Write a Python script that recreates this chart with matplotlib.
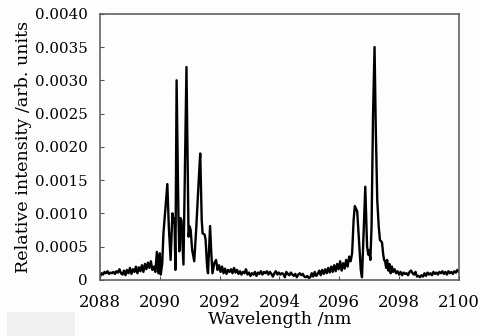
import matplotlib
matplotlib.use('Agg')
import matplotlib.pyplot as plt
from matplotlib.patches import Rectangle

# spectrum
wavelength = [
    2088.00, 2088.05, 2088.10, 2088.15, 2088.20, 2088.25, 2088.30, 2088.35, 2088.40, 2088.45,
    2088.50, 2088.55, 2088.60, 2088.65, 2088.70, 2088.75, 2088.80, 2088.85, 2088.90, 2088.95,
    2089.00, 2089.05, 2089.10, 2089.15, 2089.20, 2089.25, 2089.30, 2089.35, 2089.40, 2089.45,
    2089.50, 2089.55, 2089.60, 2089.65, 2089.70, 2089.75, 2089.80, 2089.85, 2089.90, 2089.95,
    2090.00, 2090.03, 2090.08, 2090.12, 2090.18, 2090.25, 2090.30, 2090.36, 2090.42, 2090.46,
    2090.49, 2090.52, 2090.56, 2090.62, 2090.65, 2090.69, 2090.72, 2090.75, 2090.79, 2090.89,
    2090.96, 2091.00, 2091.03, 2091.08, 2091.15, 2091.22, 2091.30, 2091.35, 2091.40, 2091.43,
    2091.50, 2091.53, 2091.58, 2091.61, 2091.68, 2091.72, 2091.76, 2091.82, 2091.88, 2091.93,
    2091.98, 2092.03, 2092.08, 2092.13, 2092.18, 2092.23, 2092.28, 2092.33, 2092.38, 2092.43,
    2092.48, 2092.53, 2092.58, 2092.63, 2092.68, 2092.73, 2092.78, 2092.83, 2092.88, 2092.93,
    2092.98, 2093.03, 2093.08, 2093.13, 2093.18, 2093.23, 2093.28, 2093.33, 2093.38, 2093.43,
    2093.48, 2093.53, 2093.58, 2093.63, 2093.68, 2093.73, 2093.78, 2093.83, 2093.88, 2093.93,
    2093.98, 2094.03, 2094.08, 2094.13, 2094.18, 2094.23, 2094.28, 2094.33, 2094.38, 2094.43,
    2094.48, 2094.53, 2094.58, 2094.63, 2094.68, 2094.73, 2094.78, 2094.83, 2094.88, 2094.93,
    2094.98, 2095.03, 2095.08, 2095.13, 2095.18, 2095.23, 2095.28, 2095.33, 2095.38, 2095.43,
    2095.48, 2095.53, 2095.58, 2095.63, 2095.68, 2095.73, 2095.78, 2095.83, 2095.88, 2095.93,
    2095.98, 2096.03, 2096.08, 2096.13, 2096.18, 2096.23, 2096.28, 2096.33, 2096.38, 2096.43,
    2096.48, 2096.52, 2096.60, 2096.66, 2096.72, 2096.76, 2096.82, 2096.87, 2096.91, 2096.93,
    2096.97, 2097.00, 2097.04, 2097.08, 2097.13, 2097.18, 2097.22, 2097.27, 2097.32, 2097.36,
    2097.40, 2097.43, 2097.47, 2097.50, 2097.53, 2097.57, 2097.60, 2097.64, 2097.68, 2097.72,
    2097.76, 2097.80, 2097.85, 2097.90, 2097.95, 2098.00, 2098.05, 2098.10, 2098.15, 2098.20,
    2098.25, 2098.30, 2098.35, 2098.40, 2098.45, 2098.50, 2098.55, 2098.60, 2098.65, 2098.70,
    2098.75, 2098.80, 2098.85, 2098.90, 2098.95, 2099.00, 2099.05, 2099.10, 2099.15, 2099.20,
    2099.25, 2099.30, 2099.35, 2099.40, 2099.45, 2099.50, 2099.55, 2099.60, 2099.65, 2099.70,
    2099.75, 2099.80, 2099.85, 2099.90, 2099.95, 2100.00,
]
intensity = [
    0.00005, 0.00010, 0.00008, 0.00012, 0.00010, 0.00013, 0.00009, 0.00011, 0.00010, 0.00012,
    0.00009, 0.00013, 0.00011, 0.00016, 0.00010, 0.00008, 0.00014, 0.00007, 0.00015, 0.00010,
    0.00018, 0.00009, 0.00016, 0.00012, 0.00020, 0.00010, 0.00019, 0.00013, 0.00022, 0.00012,
    0.00024, 0.00016, 0.00026, 0.00018, 0.00028, 0.00015, 0.00020, 0.00012, 0.00042, 0.00010,
    0.00040, 0.00008, 0.00025, 0.00070, 0.00105, 0.00144, 0.00080, 0.00030, 0.00100, 0.00086,
    0.00092, 0.00015, 0.00300, 0.00100, 0.00043, 0.00093, 0.00090, 0.00060, 0.00023, 0.00320,
    0.00065, 0.00080, 0.00075, 0.00045, 0.00028, 0.00080, 0.00150, 0.00190, 0.00090, 0.00070,
    0.00068, 0.00060, 0.00020, 0.00010, 0.00081, 0.00040, 0.00010, 0.00025, 0.00030, 0.00015,
    0.00022, 0.00012, 0.00020, 0.00010, 0.00017, 0.00009, 0.00015, 0.00012, 0.00016, 0.00010,
    0.00018, 0.00011, 0.00015, 0.00009, 0.00013, 0.00008, 0.00012, 0.00010, 0.00016, 0.00008,
    0.00011, 0.00006, 0.00010, 0.00008, 0.00012, 0.00006, 0.00011, 0.00009, 0.00013, 0.00008,
    0.00012, 0.00010, 0.00013, 0.00008, 0.00012, 0.00009, 0.00005, 0.00010, 0.00013, 0.00008,
    0.00011, 0.00008, 0.00010, 0.00009, 0.00004, 0.00012, 0.00009, 0.00007, 0.00011, 0.00008,
    0.00006, 0.00009, 0.00004, 0.00008, 0.00010, 0.00007, 0.00009, 0.00005, 0.00004, 0.00006,
    0.00003, 0.00004, 0.00010, 0.00005, 0.00012, 0.00006, 0.00009, 0.00014, 0.00007, 0.00015,
    0.00009, 0.00016, 0.00010, 0.00018, 0.00011, 0.00020, 0.00012, 0.00022, 0.00013, 0.00024,
    0.00016, 0.00028, 0.00014, 0.00025, 0.00017, 0.00030, 0.00020, 0.00035, 0.00028, 0.00040,
    0.00090, 0.00111, 0.00103, 0.00060, 0.00015, 0.00004, 0.00080, 0.00140, 0.00080, 0.00050,
    0.00038, 0.00045, 0.00030, 0.00080, 0.00250, 0.00350, 0.00230, 0.00120, 0.00080, 0.00060,
    0.00058, 0.00056, 0.00038, 0.00030, 0.00028, 0.00018, 0.00030, 0.00014, 0.00024, 0.00010,
    0.00020, 0.00012, 0.00016, 0.00010, 0.00013, 0.00008, 0.00012, 0.00007, 0.00011, 0.00009,
    0.00010, 0.00007, 0.00012, 0.00014, 0.00010, 0.00008, 0.00012, 0.00005, 0.00006, 0.00004,
    0.00007, 0.00005, 0.00010, 0.00006, 0.00011, 0.00008, 0.00010, 0.00007, 0.00012, 0.00009,
    0.00011, 0.00008, 0.00012, 0.00010, 0.00013, 0.00009, 0.00012, 0.00008, 0.00013, 0.00010,
    0.00012, 0.00009, 0.00013, 0.00011, 0.00015, 0.00012,
]

x_ticks = [2088, 2090, 2092, 2094, 2096, 2098, 2100]
y_ticks = [0, 0.0005, 0.0010, 0.0015, 0.0020, 0.0025, 0.0030, 0.0035, 0.0040]
y_tick_labels = ['0', '0.0005', '0.0010', '0.0015', '0.0020',
                 '0.0025', '0.0030', '0.0035', '0.0040']

plt.rcParams['font.family'] = ['DejaVu Serif']

fig = plt.figure(figsize=(4.81, 3.36), dpi=100)
fig.patch.set_facecolor('#fdfdfd')
ax = fig.add_axes([0.208, 0.167, 0.746, 0.792])
ax.set_facecolor('#fdfdfd')

ax.plot(wavelength, intensity, color='black', linewidth=1.7)

ax.set_xlim(2088, 2100)
ax.set_ylim(0, 0.0040)
ax.set_xticks(x_ticks)
ax.set_xticklabels([str(t) for t in x_ticks])
ax.set_yticks(y_ticks)
ax.set_yticklabels(y_tick_labels)
ax.tick_params(direction='in', length=3, width=0.8, color='#555555')
ax.tick_params(axis='y', pad=9, labelsize=10.8)
ax.tick_params(axis='x', pad=10, labelsize=11.8)

for s in ax.spines.values():
    s.set_color('#555555')
    s.set_linewidth(1.1)

ax.set_xlabel('Wavelength /nm', fontsize=12.6, labelpad=0)
ax.set_ylabel('Relative intensity /arb. units', fontsize=12.6, labelpad=2)

# light patch in the lower left corner of the scan
fig.patches.append(Rectangle((0.015, 0.0), 0.14, 0.07, transform=fig.transFigure,
                             facecolor='#f1f1f1', edgecolor='none'))

fig.savefig('out.png', dpi=100, facecolor=fig.get_facecolor())
